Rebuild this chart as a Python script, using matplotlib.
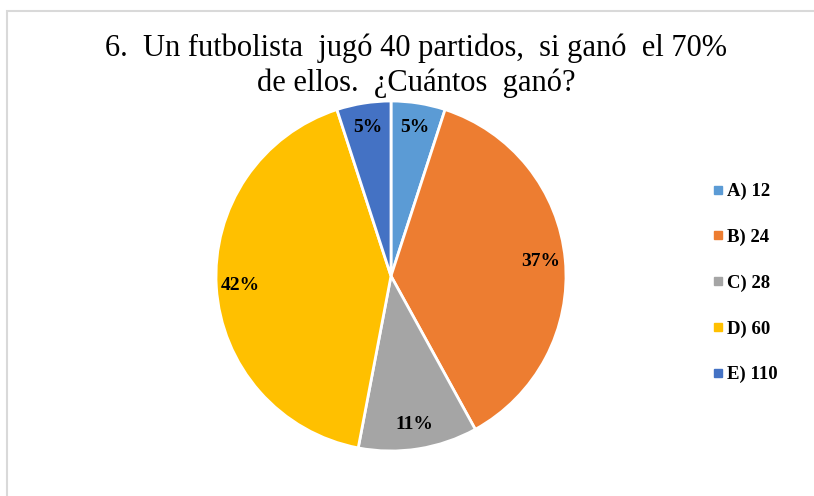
import matplotlib
matplotlib.use("Agg")
import matplotlib.pyplot as plt
from matplotlib.lines import Line2D
from matplotlib.patches import Rectangle

title = "6.  Un futbolista  jugó 40 partidos,  si ganó  el 70%\nde ellos.  ¿Cuántos  ganó?"
categories = ["A) 12", "B) 24", "C) 28", "D) 60", "E) 110"]
values = [5, 37, 11, 42, 5]
colors = ["#5B9BD5", "#ED7D31", "#A5A5A5", "#FFC000", "#4472C4"]

W, H = 814, 496
fig = plt.figure(figsize=(W / 100, H / 100), dpi=100)
fig.patch.set_facecolor("white")

# light border
fig.patches.append(Rectangle((7 / W, -0.1), 1.2, (H - 11) / H + 0.1, transform=fig.transFigure,
                             fill=False, edgecolor="#D9D9D9", linewidth=1.5))

cx, cy, r = 391, 276, 175
ax = fig.add_axes([(cx - r) / W, (H - cy - r) / H, 2 * r / W, 2 * r / H])
wedges, texts, autotexts = ax.pie(
    values, colors=colors, startangle=90, counterclock=False,
    autopct=lambda p: f"{p:.0f}%", pctdistance=0.86,
    wedgeprops=dict(edgecolor="white", linewidth=2),
    textprops=dict(family="Liberation Serif", fontweight="bold", fontsize=14, color="black"),
)
ax.set_aspect("auto")
ax.set_xlim(-1, 1)
ax.set_ylim(-1, 1)

fig.text(416 / W, 1 - 66 / H, title, ha="center", va="center", family="Liberation Serif",
         fontsize=22, linespacing=1.24)

handles = [Line2D([], [], marker="s", linestyle="none", markersize=5.5, color=c) for c in colors]
leg = fig.legend(handles, categories, loc="upper left", bbox_to_anchor=(695 / W, 1 - 166 / H),
                 frameon=False, handlelength=0.6, handletextpad=0.2, labelspacing=1.52,
                 prop=dict(family="Liberation Serif", weight="bold", size=13.5))

fig.savefig("out.png", dpi=100)
